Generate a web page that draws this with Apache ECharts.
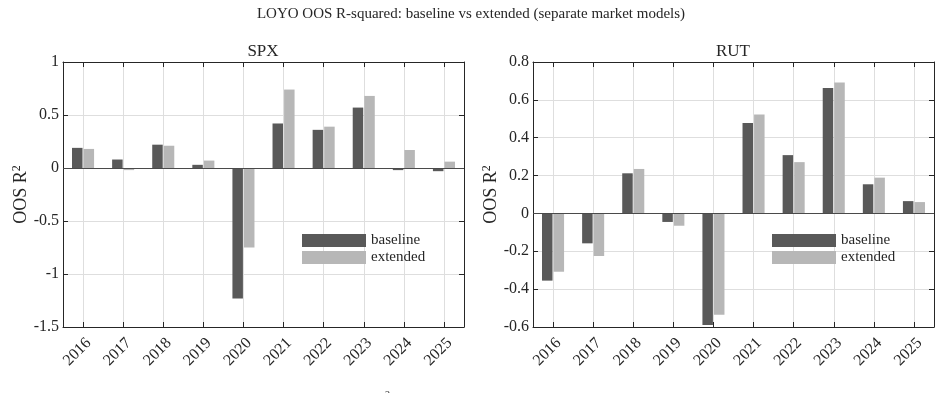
<!DOCTYPE html>
<html><head><meta charset="utf-8">
<script src="https://cdn.jsdelivr.net/npm/echarts@6/dist/echarts.min.js"></script>
<style>html,body{margin:0;padding:0;background:#fff}#c{width:942px;height:393px}</style>
</head><body><div id="c"></div>
<script>
const years = ['2016','2017','2018','2019','2020','2021','2022','2023','2024','2025'];
const spxBaseline = [0.19, 0.08, 0.22, 0.03, -1.23, 0.42, 0.36, 0.57, -0.02, -0.03];
const spxExtended = [0.18, -0.02, 0.21, 0.07, -0.75, 0.74, 0.39, 0.68, 0.17, 0.06];
const rutBaseline = [-0.355, -0.158, 0.212, -0.045, -0.59, 0.478, 0.308, 0.662, 0.154, 0.065];
const rutExtended = [-0.308, -0.225, 0.235, -0.065, -0.535, 0.523, 0.271, 0.692, 0.189, 0.06];
const spxTicks = {min: -1.5, max: 1, interval: 0.5};
const rutTicks = {min: -0.6, max: 0.8, interval: 0.2};

const FONT = 'Liberation Serif';
const AX = '#262626';
const GRIDC = '#dedede';
const C_BASE = '#595959';
const C_EXT = '#b7b7b7';

const grids = [
  {left: 63, right: 478, top: 62, bottom: 66},
  {left: 533, right: 8, top: 62, bottom: 66}
];

function xAxes(i) {
  return [
    {
      type: 'category', gridIndex: i, data: years, position: 'bottom',
      axisLine: {show: true, onZero: false, lineStyle: {color: AX, width: 1}},
      axisTick: {show: true, inside: true, alignWithLabel: true, length: 5, lineStyle: {color: AX}},
      splitLine: {show: true, alignWithLabel: true, lineStyle: {color: GRIDC, width: 1}},
      axisLabel: {rotate: 45, fontFamily: FONT, fontSize: 16, color: AX, margin: 8, interval: 0,
                  align: 'right', verticalAlign: 'top'}
    },
    {
      type: 'category', gridIndex: i, data: years, position: 'top',
      axisLine: {show: true, onZero: false, lineStyle: {color: AX, width: 1}},
      axisTick: {show: true, inside: true, alignWithLabel: true, length: 5, lineStyle: {color: AX}},
      splitLine: {show: false}, axisLabel: {show: false}
    }
  ];
}
function yAxes(i, t) {
  return [
    {
      type: 'value', gridIndex: i, position: 'left', min: t.min, max: t.max, interval: t.interval,
      name: 'OOS R{s|2}', nameLocation: 'middle', nameGap: 31,
      nameTextStyle: {fontFamily: FONT, fontSize: 18, color: AX,
        rich: {s: {fontFamily: FONT, fontSize: 12, color: AX, verticalAlign: 'top', padding: [0,0,8,0]}}},
      axisLine: {show: true, onZero: false, lineStyle: {color: AX, width: 1}},
      axisTick: {show: true, inside: true, length: 5, lineStyle: {color: AX}},
      splitLine: {show: true, lineStyle: {color: GRIDC, width: 1}},
      axisLabel: {fontFamily: FONT, fontSize: 16, color: AX, margin: 4}
    },
    {
      type: 'value', gridIndex: i, position: 'right', min: t.min, max: t.max, interval: t.interval,
      axisLine: {show: true, onZero: false, lineStyle: {color: AX, width: 1}},
      axisTick: {show: true, inside: true, length: 5, lineStyle: {color: AX}},
      splitLine: {show: false}, axisLabel: {show: false}
    }
  ];
}

function barSeries(name, data, color, gi, withZero) {
  const s = {
    name: name, type: 'bar', data: data,
    xAxisIndex: gi * 2, yAxisIndex: gi * 2,
    barWidth: 10.5, barGap: '10%', itemStyle: {color: color},
    emphasis: {disabled: true}
  };
  if (withZero) {
    s.markLine = {
      silent: true, symbol: 'none', label: {show: false}, z: 10,
      lineStyle: {color: '#4a4a4a', width: 1, type: 'solid'},
      emphasis: {disabled: true},
      data: [{yAxis: 0}]
    };
  }
  return s;
}

const legendCommon = {
  orient: 'vertical', itemWidth: 64, itemHeight: 13, itemGap: 2, padding: 0,
  icon: 'rect', data: ['baseline', 'extended'],
  textStyle: {fontFamily: FONT, fontSize: 15, color: AX, lineHeight: 15},
  selectedMode: false
};

const titleStyle = (sz) => ({fontFamily: FONT, fontSize: sz, fontWeight: 'normal', color: AX});

const option = {
  animation: false,
  backgroundColor: '#fff',
  title: [
    {text: 'LOYO OOS R-squared: baseline vs extended (separate market models)', left: 'center', top: 7, padding: 0,
     textStyle: titleStyle(15)},
    {text: 'SPX', left: 263, top: 43, padding: 0, textAlign: 'center', textStyle: titleStyle(17)},
    {text: 'RUT', left: 733, top: 43, padding: 0, textAlign: 'center', textStyle: titleStyle(17)}
  ],
  legend: [
    Object.assign({left: 302, top: 233}, legendCommon),
    Object.assign({left: 772, top: 233}, legendCommon)
  ],
  grid: grids,
  xAxis: xAxes(0).concat(xAxes(1)),
  yAxis: yAxes(0, spxTicks).concat(yAxes(1, rutTicks)),
  series: [
    barSeries('baseline', spxBaseline, C_BASE, 0, false),
    barSeries('extended', spxExtended, C_EXT, 0, true),
    barSeries('baseline', rutBaseline, C_BASE, 1, false),
    barSeries('extended', rutExtended, C_EXT, 1, true)
  ],
  graphic: [
    {type: 'text', left: 385, top: 390, style: {text: '2', fontFamily: FONT, fontSize: 10, fill: AX}}
  ]
};

const chart = echarts.init(document.getElementById('c'), null, {renderer: 'canvas'});
chart.setOption(option);
</script>
</body></html>
